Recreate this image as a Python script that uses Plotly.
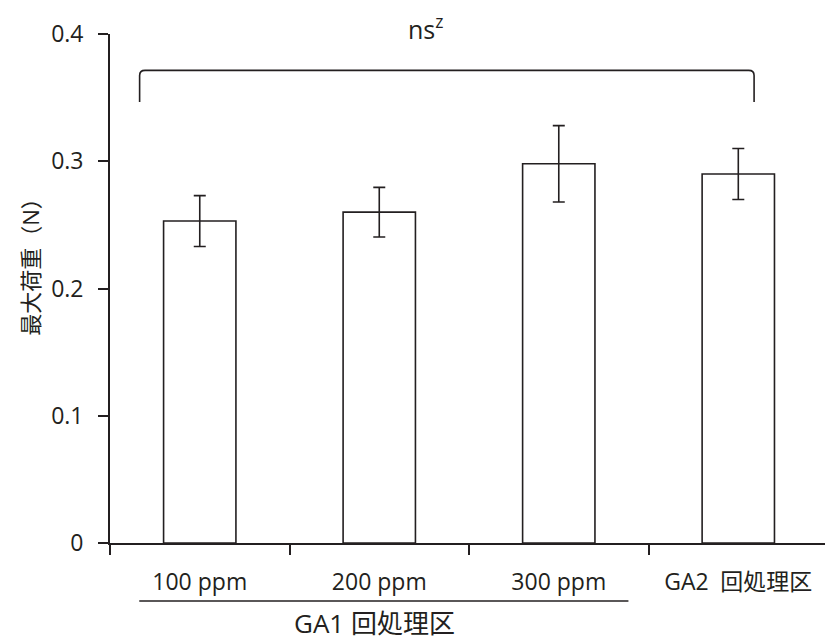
import plotly.graph_objects as go

categories = ["100 ppm", "200 ppm", "300 ppm", "GA2\u2002回処理区"]
values = [0.253, 0.260, 0.298, 0.290]
errors = [0.020, 0.0195, 0.030, 0.020]

y_ticks = [0, 0.1, 0.2, 0.3, 0.4]
y_ticktext = ["0", "0.1", "0.2", "0.3", "0.4"]

group_label = "GA1 回処理区"
y_title = "最大荷重（N）"
sig_text = "ns<sup>z</sup>"

INK = "#231f20"
FONT = "Open Sans, Noto Sans CJK JP, sans-serif"

fig = go.Figure()
fig.add_trace(go.Bar(
    x=categories, y=values,
    width=0.403,
    marker=dict(color="white", line=dict(color=INK, width=1.6)),
    error_y=dict(type="data", array=errors, visible=True, color=INK, thickness=1.6, width=6),
    showlegend=False,
))

# bracket (data coords)
bx0, bx1 = -0.335, 3.088
by_top, by_bot = 0.3714, 0.3466
c = 0.004
fig.add_shape(type="path", xref="x", yref="y",
              path=(f"M {bx0},{by_bot} L {bx0},{by_top - c} Q {bx0},{by_top} {bx0 + 0.03},{by_top} "
                    f"L {bx1 - 0.03},{by_top} Q {bx1},{by_top} {bx1},{by_top - c} L {bx1},{by_bot}"),
              line=dict(color=INK, width=1.6))

fig.add_annotation(x=1.258, y=1.012, xref="x", yref="paper", text=sig_text, showarrow=False,
                   font=dict(size=25, color=INK, family=FONT), xanchor="center", yanchor="middle")

# group underline and label
fig.add_shape(type="line", xref="x", yref="paper", x0=-0.337, x1=2.388, y0=-0.114, y1=-0.114,
              line=dict(color=INK, width=1.6))
fig.add_annotation(x=0.976, y=-0.158, xref="x", yref="paper", text=group_label, showarrow=False,
                   font=dict(size=26, color=INK, family=FONT), xanchor="center", yanchor="middle")

fig.add_annotation(x=-0.113, y=0.553, xref="paper", yref="paper", text=y_title, showarrow=False,
                   textangle=-90, font=dict(size=22, color=INK, family=FONT),
                   xanchor="center", yanchor="middle")

fig.update_layout(
    width=825, height=642,
    margin=dict(l=110, r=0, t=34, b=99),
    paper_bgcolor="white", plot_bgcolor="white",
    font=dict(family=FONT, color=INK, size=21),
    bargap=0.6,
)
fig.update_xaxes(
    type="category", range=[-0.5, 3.483],
    tickson="boundaries", ticks="outside", ticklen=10, tickwidth=1.6, tickcolor=INK,
    showline=True, linecolor=INK, linewidth=1.8, showgrid=False, zeroline=False,
    tickfont=dict(size=23, color=INK, family=FONT), ticklabelstandoff=17,
)
fig.update_yaxes(
    range=[0, 0.4], tickvals=y_ticks, ticktext=y_ticktext,
    ticks="outside", ticklen=10, tickwidth=1.6, tickcolor=INK,
    showline=True, linecolor=INK, linewidth=1.8, showgrid=False, zeroline=False,
    tickfont=dict(size=23, color=INK, family=FONT), ticklabelstandoff=10,
)

fig.write_html("out.html")
